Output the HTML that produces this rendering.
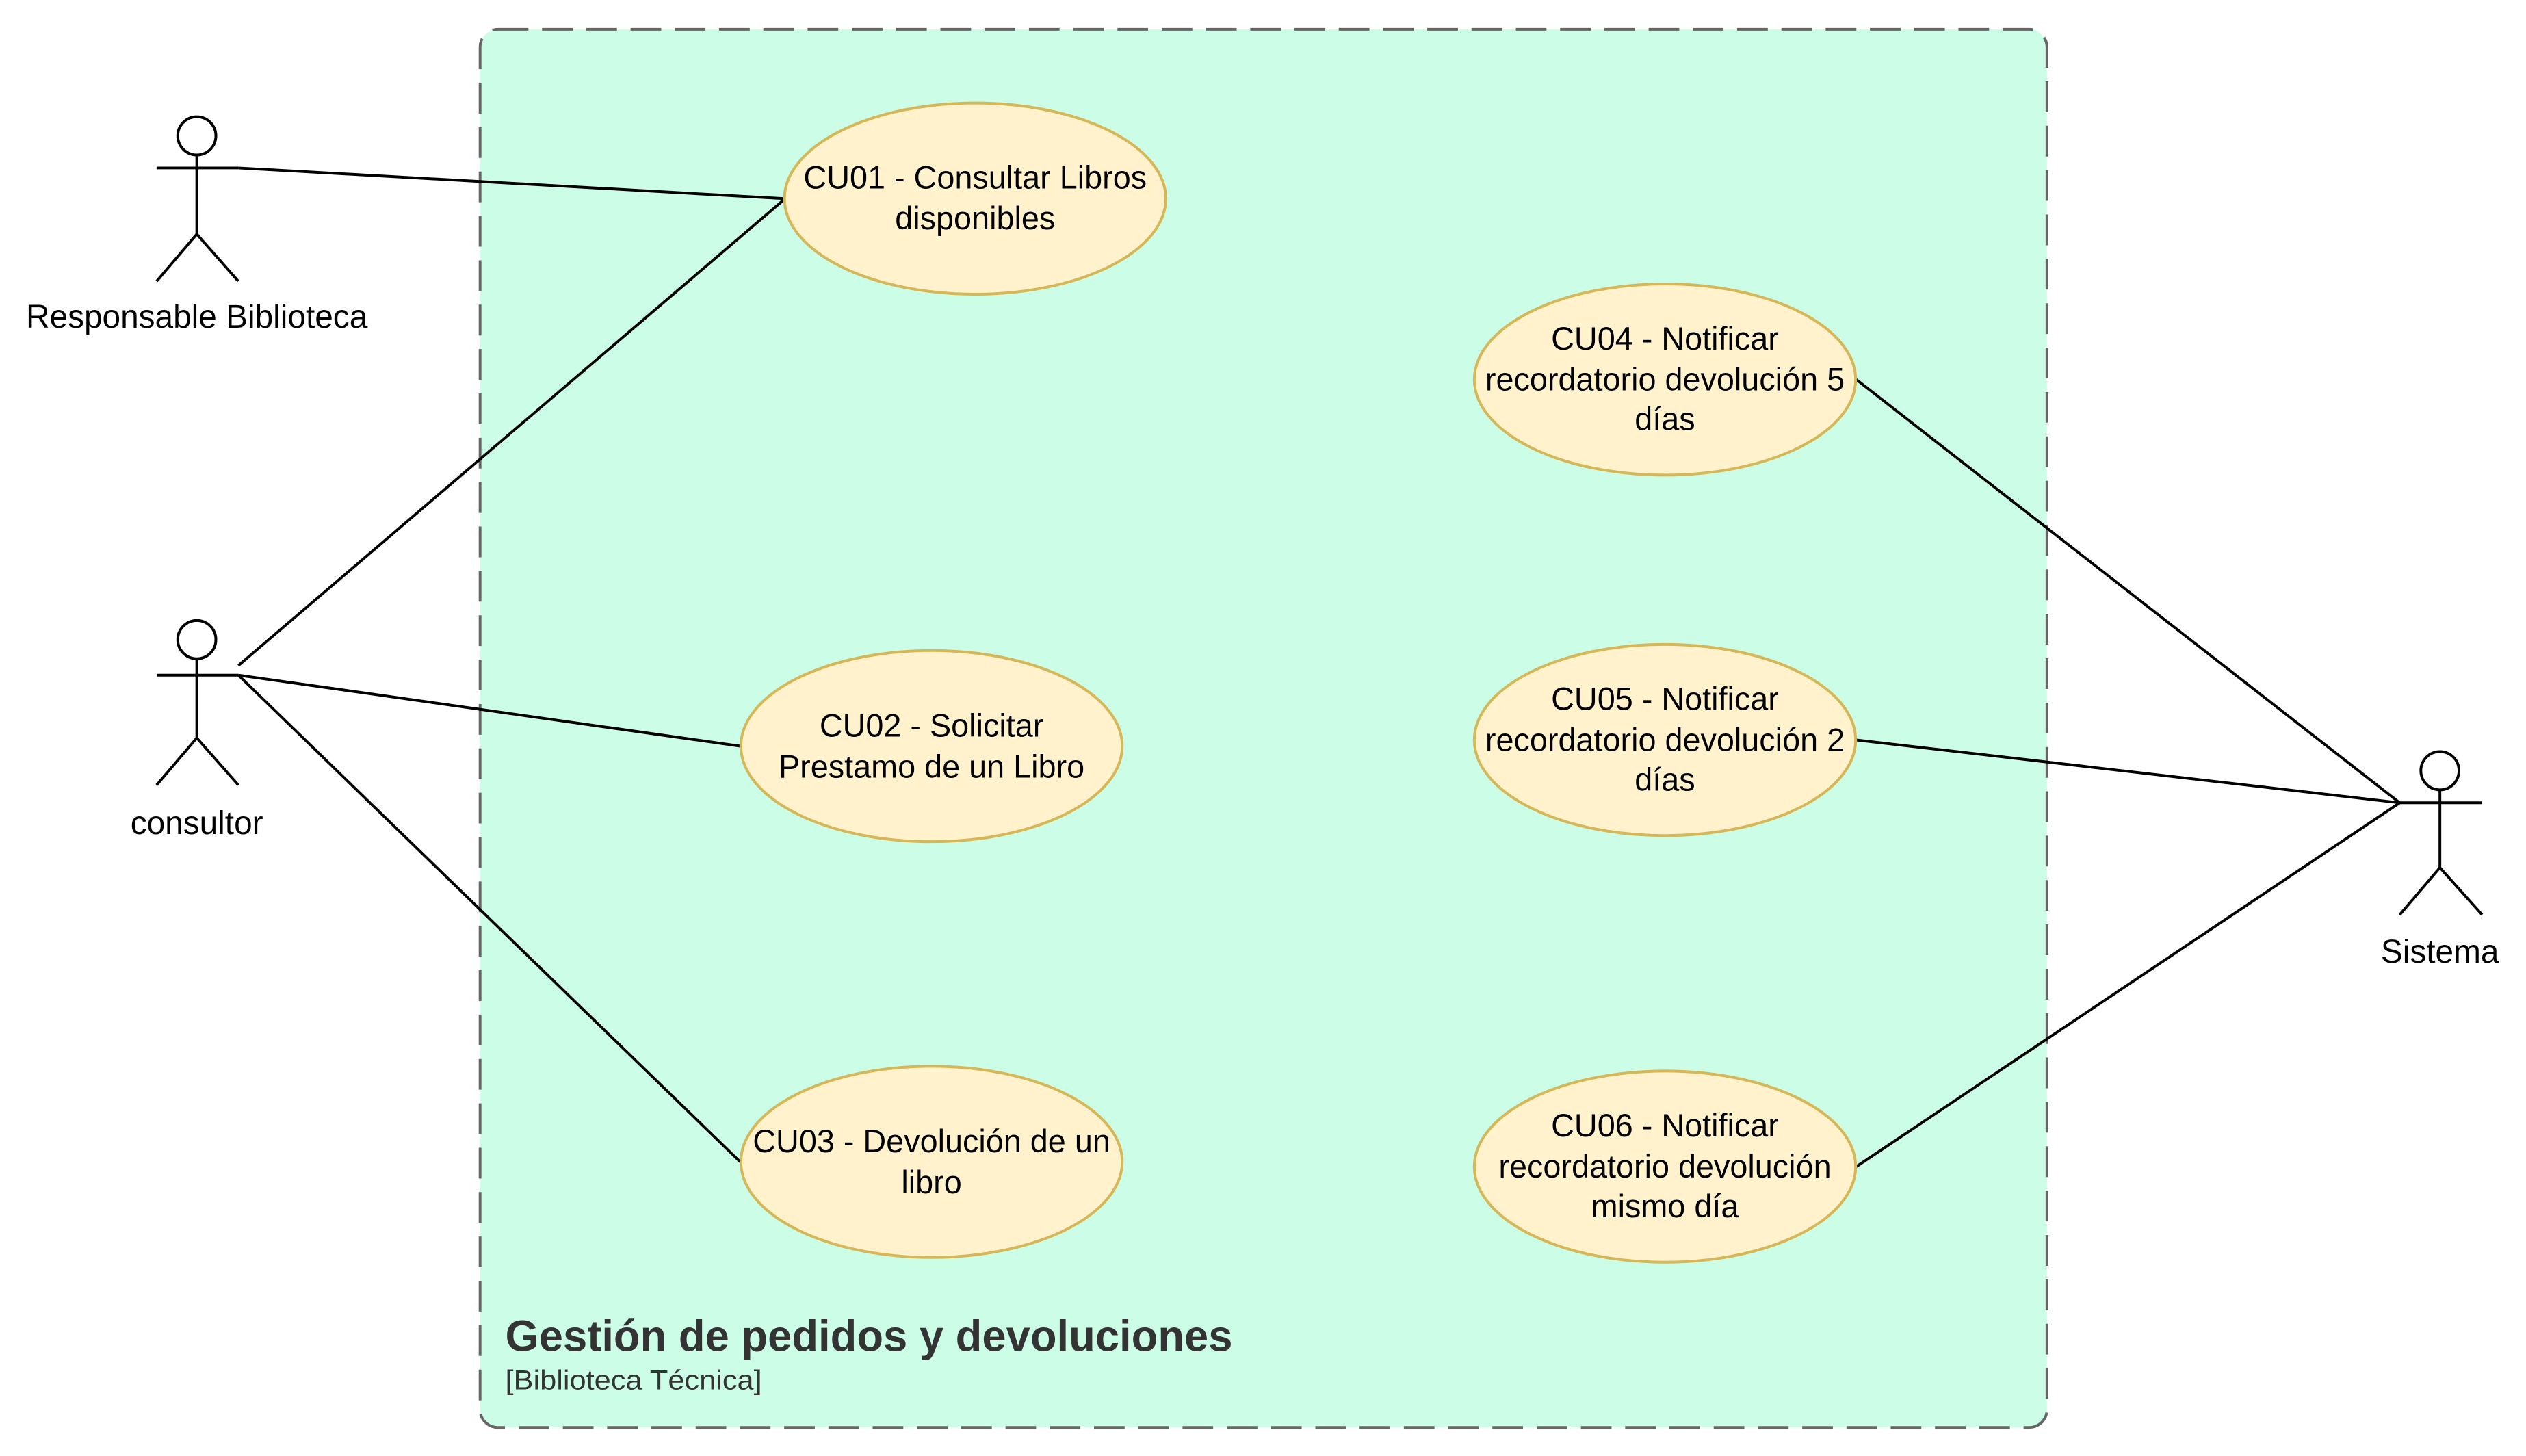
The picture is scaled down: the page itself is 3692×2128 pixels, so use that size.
<!DOCTYPE html>
<html><head><meta charset="utf-8"><style>html,body{margin:0;padding:0;background:#fff}svg{display:block}</style></head>
<body>
<svg width="3692" height="2128" viewBox="0 0 3692 2128" xmlns="http://www.w3.org/2000/svg" font-family="Liberation Sans, Arial, sans-serif">
<g transform="scale(0.9953,0.9977)">
<rect x="705" y="43" width="2301" height="2048" rx="26" ry="26" fill="#ccfde6" stroke="#666" stroke-width="4" stroke-dasharray="45,20"/>
<g stroke="#000" stroke-width="4" fill="none">
<line x1="350" y1="246" x2="1153" y2="291"/>
<line x1="350" y1="975" x2="1153" y2="291"/>
<line x1="350" y1="989" x2="1087" y2="1093"/>
<line x1="350" y1="989" x2="1087" y2="1702"/>
<line x1="2726" y1="556" x2="3524" y2="1176"/>
<line x1="2726" y1="1084" x2="3524" y2="1176"/>
<line x1="2726" y1="1709" x2="3524" y2="1176"/>
</g>
<g fill="#fff2cc" stroke="#d6b656" stroke-width="4">
<ellipse cx="1432" cy="291" rx="280" ry="140"/>
<ellipse cx="1368" cy="1093" rx="280" ry="140"/>
<ellipse cx="1368" cy="1702" rx="280" ry="140"/>
<ellipse cx="2445" cy="556" rx="280" ry="140"/>
<ellipse cx="2445" cy="1084" rx="280" ry="140"/>
<ellipse cx="2445" cy="1709" rx="280" ry="140"/>
</g>
<g font-size="47" text-anchor="middle" fill="#000">
<text x="1432" y="276">CU01 - Consultar Libros</text>
<text x="1432" y="336">disponibles</text>
<text x="1368" y="1079">CU02 - Solicitar</text>
<text x="1368" y="1139">Prestamo de un Libro</text>
<text x="1368" y="1688">CU03 - Devolución de un</text>
<text x="1368" y="1748">libro</text>
<text x="2445" y="512">CU04 - Notificar</text>
<text x="2445" y="572">recordatorio devolución 5</text>
<text x="2445" y="630">días</text>
<text x="2445" y="1040">CU05 - Notificar</text>
<text x="2445" y="1100">recordatorio devolución 2</text>
<text x="2445" y="1158">días</text>
<text x="2445" y="1665">CU06 - Notificar</text>
<text x="2445" y="1725">recordatorio devolución</text>
<text x="2445" y="1783">mismo día</text>
</g>
<g stroke="#000" stroke-width="4" fill="none">
<circle cx="289" cy="199" r="28"/>
<line x1="230" y1="246" x2="350" y2="246"/><line x1="289" y1="227" x2="289" y2="343"/>
<line x1="289" y1="343" x2="230" y2="412"/><line x1="289" y1="343" x2="350" y2="412"/>
<circle cx="289" cy="937" r="28"/>
<line x1="230" y1="989" x2="350" y2="989"/><line x1="289" y1="965" x2="289" y2="1081"/>
<line x1="289" y1="1081" x2="230" y2="1150"/><line x1="289" y1="1081" x2="350" y2="1150"/>
<circle cx="3583" cy="1129" r="28"/>
<line x1="3524" y1="1176" x2="3645" y2="1176"/><line x1="3583" y1="1157" x2="3583" y2="1271"/>
<line x1="3583" y1="1271" x2="3524" y2="1340"/><line x1="3583" y1="1271" x2="3645" y2="1340"/>
</g>
<g font-size="48" text-anchor="middle" fill="#000">
<text x="289" y="480">Responsable Biblioteca</text>
<text x="289" y="1222">consultor</text>
<text x="3583" y="1410">Sistema</text>
</g>
<text x="742" y="1979" font-size="64" font-weight="bold" fill="#333" textLength="1068" lengthAdjust="spacingAndGlyphs">Gestión de pedidos y devoluciones</text>
<text x="742" y="2035" font-size="40" fill="#333" textLength="377" lengthAdjust="spacingAndGlyphs">[Biblioteca Técnica]</text>
</g>
</svg>
</body></html>
